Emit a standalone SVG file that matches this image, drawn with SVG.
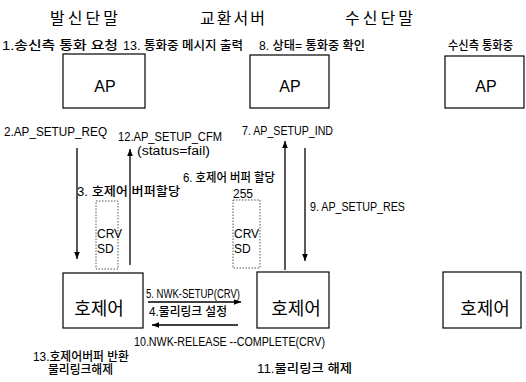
<svg xmlns="http://www.w3.org/2000/svg" width="526" height="382" viewBox="0 0 526 382">
<defs>
<marker id="ah" viewBox="0 0 10 10" refX="10" refY="5" markerWidth="7" markerHeight="7" orient="auto" markerUnits="userSpaceOnUse">
<path d="M0,1 L10,5 L0,9 z" fill="#000"/>
</marker>
<style>
.box{fill:#fff;stroke:#000;stroke-width:1.2}
.dot{fill:none;stroke:#555;stroke-width:1;stroke-dasharray:1.5 1.5}
.t{font-family:"Liberation Sans","Noto Sans CJK KR",sans-serif;font-size:12px;fill:#000}
.k{font-family:"Liberation Sans","Noto Sans CJK KR",sans-serif;font-size:12.5px;font-weight:500;fill:#000}
.h{font-family:"Noto Sans CJK KR",sans-serif;font-size:16px;fill:#000}
.ap{font-family:"Liberation Sans",sans-serif;font-size:16px;fill:#000;text-anchor:middle}
.hj{font-family:"Noto Sans CJK KR",sans-serif;font-size:18px;fill:#000;text-anchor:middle}
.ln{stroke:#000;stroke-width:1.3;fill:none}
</style>
</defs>
<rect width="526" height="382" fill="#fff"/>

<g id="headers">
<text class="h" x="50" y="24" textLength="68" lengthAdjust="spacing">발신단말</text>
<text class="h" x="200" y="24" textLength="65" lengthAdjust="spacing">교환서버</text>
<text class="h" x="345" y="24" textLength="68" lengthAdjust="spacing">수신단말</text>
</g>

<g id="ap-send">
<rect class="box" x="63" y="54" width="82" height="54"/>
<text class="ap" x="105" y="92">AP</text>
</g>
<g id="ap-server">
<rect class="box" x="250" y="55" width="79" height="53"/>
<text class="ap" x="290" y="92">AP</text>
</g>
<g id="ap-recv">
<rect class="box" x="445" y="56" width="79" height="52"/>
<text class="ap" x="486" y="92">AP</text>
</g>

<g id="cc-send">
<rect class="box" x="63" y="273" width="80" height="55"/>
<text class="hj" x="99" y="315">호제어</text>
</g>
<g id="cc-server">
<rect class="box" x="257" y="272" width="72" height="56"/>
<text class="hj" x="296" y="315">호제어</text>
</g>
<g id="cc-recv">
<rect class="box" x="443" y="272" width="78" height="56"/>
<text class="hj" x="485" y="315">호제어</text>
</g>

<g id="buffer-send">
<rect class="dot" x="96" y="201" width="22" height="68"/>
<text class="t" x="97" y="238">CRV</text>
<text class="t" x="97" y="253">SD</text>
</g>
<g id="buffer-server">
<rect class="dot" x="233" y="200" width="27" height="68"/>
<text class="t" x="233" y="198">255</text>
<text class="t" x="234" y="238">CRV</text>
<text class="t" x="234" y="253">SD</text>
</g>

<g id="connectors">
<line class="ln" x1="77" y1="148" x2="77" y2="259" marker-end="url(#ah)"/>
<line class="ln" x1="130" y1="265" x2="130" y2="149" marker-end="url(#ah)"/>
<line class="ln" x1="285" y1="270" x2="285" y2="141" marker-end="url(#ah)"/>
<line class="ln" x1="305" y1="148" x2="305" y2="261" marker-end="url(#ah)"/>
<line class="ln" x1="148" y1="302" x2="241" y2="302" marker-end="url(#ah)"/>
<line class="ln" x1="238" y1="325" x2="152" y2="325" marker-end="url(#ah)"/>
</g>

<g id="labels">
<text class="k" x="2" y="50" textLength="116" lengthAdjust="spacingAndGlyphs">1.송신측 통화 요청</text>
<text class="k" x="123" y="50" textLength="120" lengthAdjust="spacingAndGlyphs">13. 통화중 메시지 출력</text>
<text class="k" x="259" y="50" textLength="106" lengthAdjust="spacingAndGlyphs">8. 상태= 통화중 확인</text>
<text class="k" x="448" y="50" textLength="65" lengthAdjust="spacingAndGlyphs">수신측 통화중</text>
<text class="t" x="4" y="136" textLength="103" lengthAdjust="spacingAndGlyphs">2.AP_SETUP_REQ</text>
<text class="t" x="118" y="141" textLength="104" lengthAdjust="spacingAndGlyphs">12.AP_SETUP_CFM</text>
<text class="t" x="137" y="155" textLength="73" lengthAdjust="spacingAndGlyphs">(status=fail)</text>
<text class="t" x="242" y="135" textLength="91" lengthAdjust="spacingAndGlyphs">7. AP_SETUP_IND</text>
<text class="k" x="183" y="182" textLength="92" lengthAdjust="spacingAndGlyphs">6. 호제어 버퍼 할당</text>
<text class="k" x="77" y="196" textLength="103" lengthAdjust="spacingAndGlyphs">3. 호제어 버퍼할당</text>
<text class="t" x="310" y="211" textLength="95" lengthAdjust="spacingAndGlyphs">9. AP_SETUP_RES</text>
<text class="t" x="146" y="298" textLength="94" lengthAdjust="spacingAndGlyphs">5. NWK-SETUP(CRV)</text>
<text class="k" x="149" y="316" textLength="78" lengthAdjust="spacingAndGlyphs">4.물리링크 설정</text>
<text class="t" x="134" y="346" textLength="191" lengthAdjust="spacingAndGlyphs">10.NWK-RELEASE --COMPLETE(CRV)</text>
<text class="k" x="33" y="361" textLength="96" lengthAdjust="spacingAndGlyphs">13.호제어버퍼 반환</text>
<text class="k" x="48" y="374" textLength="65" lengthAdjust="spacingAndGlyphs">물리링크해제</text>
<text class="k" x="257" y="373" textLength="95" lengthAdjust="spacingAndGlyphs">11.물리링크 해제</text>
</g>
</svg>
